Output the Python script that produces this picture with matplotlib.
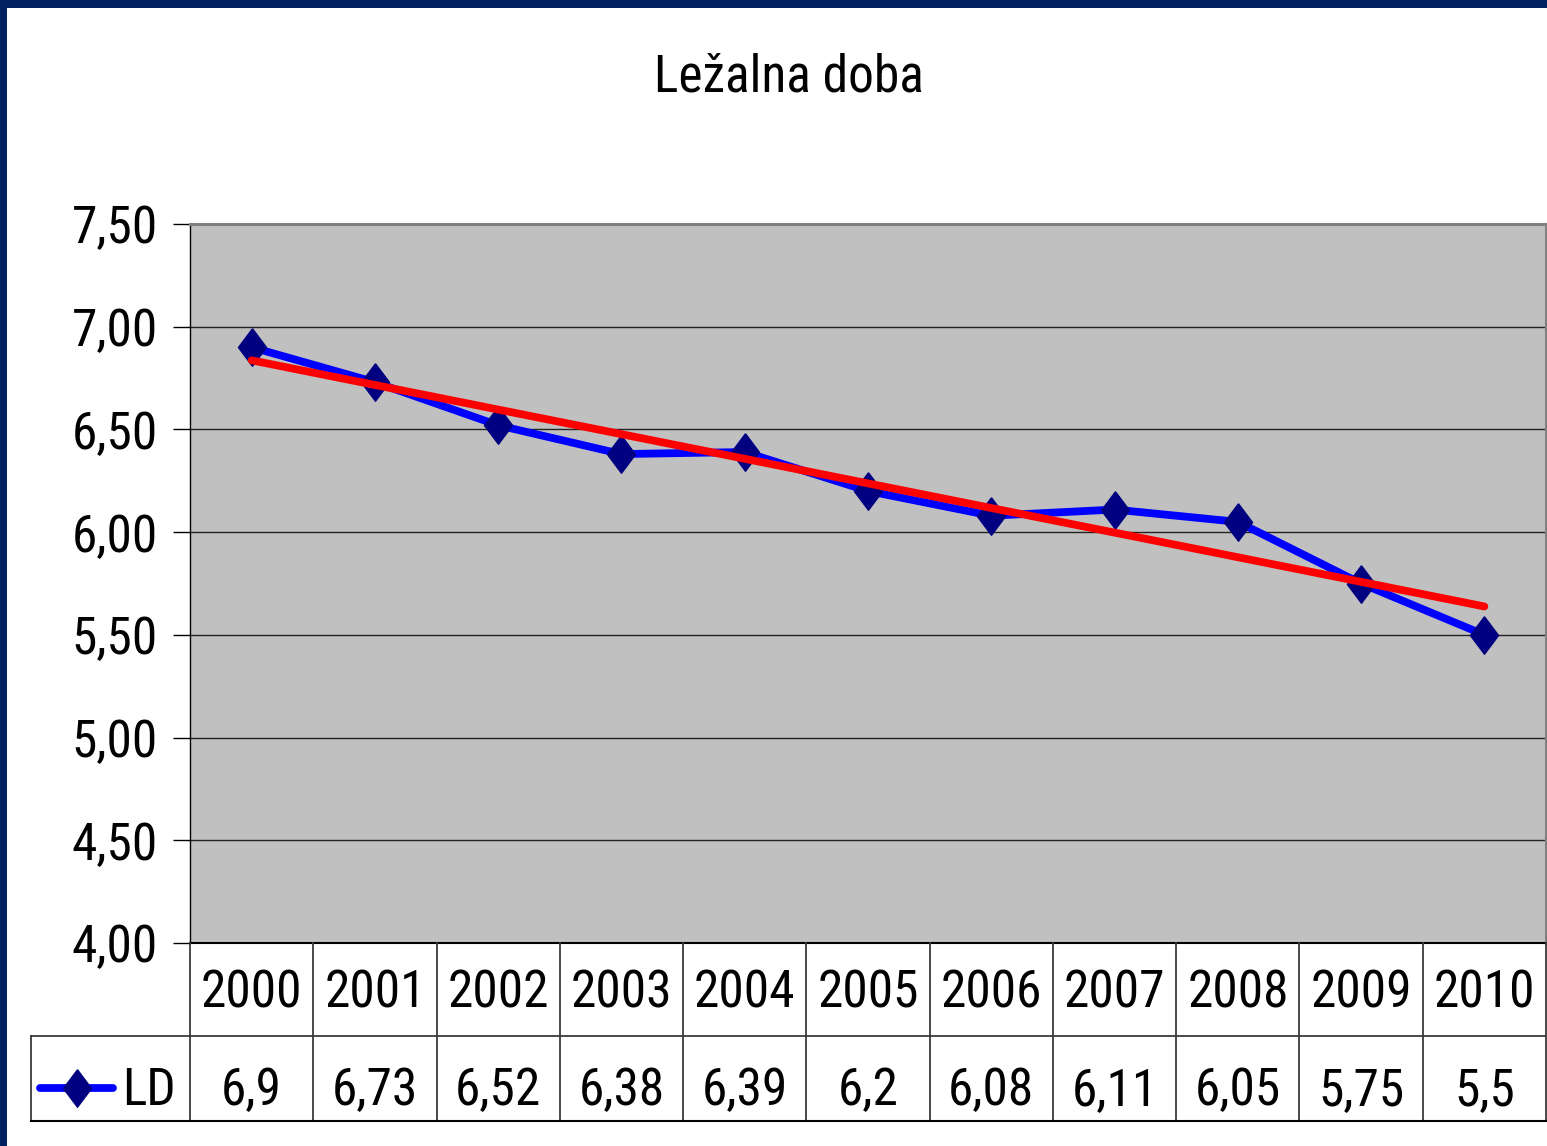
import matplotlib
matplotlib.use('Agg')
import numpy as np
import matplotlib.pyplot as plt
from matplotlib import font_manager
from matplotlib.patches import Rectangle

years = ['2000', '2001', '2002', '2003', '2004', '2005', '2006', '2007', '2008', '2009', '2010']
ld_values = [6.9, 6.73, 6.52, 6.38, 6.39, 6.2, 6.08, 6.11, 6.05, 5.75, 5.5]
ld_labels = ['6,9', '6,73', '6,52', '6,38', '6,39', '6,2', '6,08', '6,11', '6,05', '5,75', '5,5']
y_ticks = [4.0, 4.5, 5.0, 5.5, 6.0, 6.5, 7.0, 7.5]
title = 'Ležalna doba'
series_name = 'LD'


def pick_narrow_font():
    # look for a condensed sans face (the original uses Arial Narrow)
    entries = font_manager.fontManager.ttflist
    names = [e.name for e in entries]
    for want in ['Liberation Sans Narrow', 'Arial Narrow', 'Roboto Condensed',
                 'Open Sans Condensed', 'Noto Sans Condensed', 'DejaVu Sans Condensed']:
        if want in names:
            return {'family': [want, 'DejaVu Sans']}
    for e in entries:
        st = str(e.stretch).lower()
        if ('condensed' in st or 'narrow' in e.name.lower() or 'condensed' in e.name.lower()) \
                and 'mono' not in e.name.lower() and 'serif' not in e.name.lower() \
                and e.style == 'normal' and e.weight in (400, 'normal', 'regular'):
            return {'fname': e.fname}
    return None


narrow = pick_narrow_font()
if narrow is None:
    plt.rcParams['font.family'] = ['Liberation Sans', 'DejaVu Sans']
    fkw = {}
    fs = 32
elif 'fname' in narrow:
    fkw = {'fontproperties': font_manager.FontProperties(fname=narrow['fname'], size=37)}
    fs = 37
else:
    plt.rcParams['font.family'] = narrow['family']
    fkw = {}
    fs = 37


def txt(obj, *args, **kw):
    if 'fontproperties' in fkw:
        return obj.text(*args, fontproperties=fkw['fontproperties'], **kw)
    return obj.text(*args, fontsize=fs, **kw)


W, H = 1547, 1146
fig = plt.figure(figsize=(W / 100, H / 100), dpi=100)
fig.patch.set_facecolor('white')

# navy slide frame (left and top)
navy = '#002060'
fig.patches.append(Rectangle((0, 0), 7 / W, 1, transform=fig.transFigure,
                             facecolor=navy, edgecolor='none', zorder=0))
fig.patches.append(Rectangle((0, 1 - 8 / H), 1, 8 / H, transform=fig.transFigure,
                             facecolor=navy, edgecolor='none', zorder=0))

x = np.arange(len(years))
y = np.array(ld_values)

# linear trend (as Excel trendline)
slope, intercept = np.polyfit(x, y, 1)
trend = slope * x + intercept

diamond = [(0, 1), (0.75, 0), (0, -1), (-0.75, 0), (0, 1)]
lw = 5.6

ax = fig.add_axes([190 / W, 1 - 943 / H, (1546 - 190) / W, (943 - 224) / H])
ax.set_facecolor('#C0C0C0')
ax.plot(x, y, color='#0000FF', lw=lw, marker=diamond, ms=27,
        mfc='#000080', mec='#000080', zorder=3, solid_capstyle='round')
ax.plot([x[0], x[-1]], [trend[0], trend[-1]], color='#FF0000', lw=lw, zorder=4,
        solid_capstyle='round')
ax.set_xlim(-0.5, len(years) - 0.5)
ax.set_ylim(4.0, 7.5)
ax.set_yticks(y_ticks)
ax.set_yticklabels([f'{v:.2f}'.replace('.', ',') for v in y_ticks])
for lab in ax.get_yticklabels():
    if 'fontproperties' in fkw:
        lab.set_fontproperties(fkw['fontproperties'])
    else:
        lab.set_fontsize(fs)
ax.set_xticks([])
ax.yaxis.grid(True, color='#222222', lw=1.0)
ax.set_axisbelow(True)
ax.tick_params(axis='y', length=12, width=1, direction='out', pad=11, color='black')
for s in ['top', 'right']:
    ax.spines[s].set_color('#808080')
    ax.spines[s].set_linewidth(2.2)
ax.spines['left'].set_color('black')
ax.spines['left'].set_linewidth(1)
ax.spines['bottom'].set_color('black')
ax.spines['bottom'].set_linewidth(1.5)

txt(fig, 789 / W, 1 - 78 / H, title, ha='center', va='center')

# data table below the plot
col_w = (1546 - 190) / len(years)
left_ext = (190 - 31) / col_w
tab = fig.add_axes([31 / W, 1 - 1121 / H, (1546 - 31) / W, (1121 - 943) / H])
tab.set_xlim(-0.5 - left_ext, len(years) - 0.5)
tab.set_ylim(178, 0)
tab.axis('off')
lc = '#3a3a3a'
for k in range(len(years) + 1):
    tab.plot([k - 0.5, k - 0.5], [0, 178], color=lc, lw=1.3, clip_on=False)
tab.plot([-0.5 - left_ext, -0.5 - left_ext], [93, 178], color=lc, lw=1.3, clip_on=False)
tab.plot([-0.5 - left_ext, len(years) - 0.5], [93, 93], color=lc, lw=1.3, clip_on=False)
tab.plot([-0.5 - left_ext, len(years) - 0.5], [177.5, 177.5], color='black', lw=1.5,
         clip_on=False)
for i, (yr, lab) in enumerate(zip(years, ld_labels)):
    txt(tab, i, 50, yr, ha='center', va='center')
    txt(tab, i, 148, lab, ha='center', va='center')

# legend key in table
lx0 = -0.5 - left_ext + 9 / col_w
lx1 = lx0 + 73 / col_w
tab.plot([lx0, lx1], [145, 145], color='#0000FF', lw=lw, solid_capstyle='round',
         clip_on=False)
tab.plot([(lx0 + lx1) / 2], [145], marker=diamond, ms=27, mfc='#000080',
         mec='#000080', clip_on=False)
txt(tab, lx1 + 9 / col_w, 148, series_name, ha='left', va='center')

fig.savefig('out.png', dpi=100)
